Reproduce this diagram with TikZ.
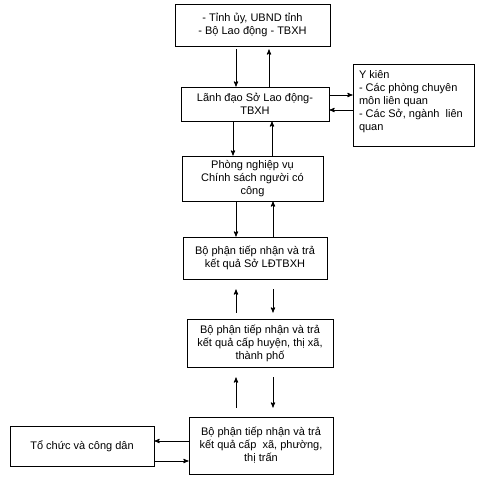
\documentclass[tikz,border=0pt]{standalone}
\usepackage{fontspec}
\setmainfont{Liberation Sans}
\usetikzlibrary{arrows}

\begin{document}
\begin{tikzpicture}[x=1pt, y=-1pt, font=\fontsize{11}{13}\selectfont,
  box/.style={draw, line width=.8pt, inner sep=0pt, align=center},
  flow/.style={black, line width=.9pt, ->, >=stealth'}]
\useasboundingbox (0,0) rectangle (499,488);
\node[box, minimum width=155pt, minimum height=42pt] (tinh) at (252.5,25) {- Tỉnh ủy, UBND tỉnh\\- Bộ Lao động - TBXH};
\node[box, minimum width=148pt, minimum height=34pt] (lanhdao) at (255,104) {Lãnh đạo Sở Lao động-\\TBXH};
\node[box, minimum width=121pt, minimum height=82pt, inner xsep=6pt, inner ysep=6pt] (ykien) at (413.5,105)
  {\parbox[t][70pt][t]{109pt}{\raggedright Y kiên\\- Các phòng chuyên\\môn liên quan\\- Các Sở, ngành~ liên\\quan}};
\node[box, minimum width=141pt, minimum height=45pt] (phong) at (252.5,178.5) {Phòng nghiệp vụ\\Chính sách người có\\công};
\node[box, minimum width=144pt, minimum height=42pt] (sobo) at (255,258) {Bộ phận tiếp nhận và trả\\kết quả Sở LĐTBXH};
\node[box, minimum width=146pt, minimum height=48pt] (huyen) at (260,343) {Bộ phận tiếp nhận và trả\\kết quả cấp huyện, thị xã,\\thành phố};
\node[box, minimum width=144pt, minimum height=57pt] (xa) at (261,445.5) {Bộ phận tiếp nhận và trả\\kết quả cấp~ xã, phường,\\thị trấn};
\node[box, minimum width=144pt, minimum height=40pt] (dan) at (82,446) {Tổ chức và công dân};
% up and down between the column boxes
\foreach \boxa/\boxb/\xd/\xu/\ga/\gb in {tinh/lanhdao/236/269/3/0, lanhdao/phong/233/272/0/0,
  phong/sobo/236/273/0/0, sobo/huyen/273/236/10/6, huyen/xa/273/236/10/9} {
 \draw[flow, shorten <=\ga pt, shorten >=\gb pt] (\boxa.south -| \xd,0) -- (\boxb.north -| \xd,0);
 \draw[flow, shorten <=\gb pt, shorten >=\ga pt] (\boxb.north -| \xu,0) -- (\boxa.south -| \xu,0);
}
% side boxes
\draw[flow] (lanhdao.east |- 0,95) -- (ykien.west |- 0,95);
\draw[flow] (ykien.west |- 0,110) -- (lanhdao.east |- 0,110);
\draw[flow] (xa.west |- 0,441) -- (dan.east |- 0,441);
\draw[flow] (dan.east |- 0,461) -- (xa.west |- 0,461);
\end{tikzpicture}
\end{document}
